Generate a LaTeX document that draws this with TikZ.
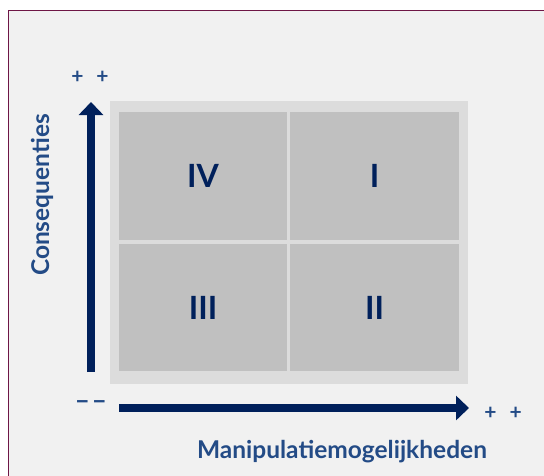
\documentclass[tikz,border=0pt]{standalone}
\usepackage{fontspec}
\setmainfont{Lato}
\usetikzlibrary{arrows.meta,positioning}
\definecolor{navy}{RGB}{0,32,91}
\definecolor{axislabel}{RGB}{35,75,134}
\definecolor{framecol}{RGB}{110,22,70}
\definecolor{panel}{RGB}{241,241,241}
\definecolor{outerbox}{RGB}{220,220,220}
\definecolor{cellgrey}{RGB}{192,192,192}
\begin{document}
\begin{tikzpicture}[x=1pt, y=-1pt, >=Latex, font=\fontsize{24.5}{26}\selectfont\bfseries,
  cellbox/.style={fill=cellgrey, minimum width=168pt, minimum height=128pt, inner sep=0pt, text=navy, font=\fontsize{32}{36}\selectfont\bfseries},
  axis/.style={line width=8pt, navy, -{Triangle[length=13pt,width=24pt]}},
  sign/.style={text=axislabel, inner sep=0pt, font=\fontsize{21}{22}\selectfont\bfseries},
  axislbl/.style={text=axislabel, inner sep=0pt}]
\useasboundingbox (0,0) rectangle (544,475);
\clip (0,0) rectangle (544,475);
\draw[framecol, line width=1.2pt, fill=panel] (8.6,10.6) rectangle (600,600);

\node(grid)[fill=outerbox, minimum width=358pt, minimum height=283pt, inner sep=0pt] at (289,242.5){};
\node(q4)[cellbox] at (203,176){IV};
\node(q1)[cellbox, minimum width=169pt] at (374.5,176){I};
\node(q3)[cellbox, minimum height=127pt] at (203,307.5){III};
\node(q2)[cellbox, minimum width=169pt, minimum height=127pt] at (374.5,307.5){II};

\coordinate(ybot) at (91,372);
\coordinate(ytop) at (91,102);
\coordinate(xleft) at (119,408);
\coordinate(xright) at (469,408);
\draw[axis] (ybot) -- (ytop);
\draw[axis] (xleft) -- (xright);

\node(yplus)[sign] at (90,77){+\hspace{13pt}+};
\node(xminus)[sign, font=\fontsize{26}{26}\selectfont\bfseries] at (91,405){\textendash\hspace{2pt}\textendash};
\node(xplus)[sign] at (503,413){+\hspace{13pt}+};

\node(ylabel)[axislbl, rotate=90] at (42,195){Consequenties};
\node(xlabel)[axislbl] at (342,452){Manipulatiemogelijkheden};
\end{tikzpicture}
\end{document}
